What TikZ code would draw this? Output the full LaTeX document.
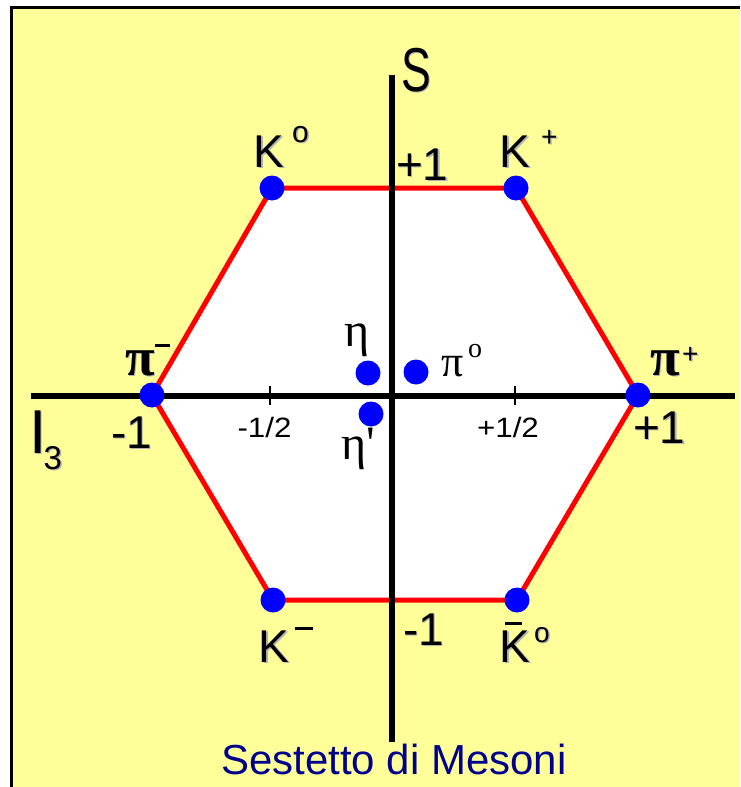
\documentclass[tikz,border=0pt]{standalone}
\usepackage{fontspec}
\setmainfont{Liberation Sans}
\newfontfamily\grk{Liberation Serif}
\usepackage{graphicx}
\definecolor{bgyellow}{RGB}{255,255,153}
\definecolor{titleblue}{RGB}{0,0,140}
\newcommand\shtxt[1]{\makebox[0pt][l]{\raisebox{-1.5pt}{\hspace{1.5pt}\textcolor{black!30}{#1}}}#1}
\newcommand\fsz[1]{\fontsize{#1}{#1}\selectfont}
\begin{document}
\begin{tikzpicture}[x=1pt,y=-1pt,
  lab/.style={inner sep=0pt, outer sep=0pt, anchor=base west},
  dot/.style={circle, fill=blue, draw=none, inner sep=0pt, minimum size=25pt},
  axisline/.style={line width=6pt},
  tickline/.style={line width=2.5pt},
  hexline/.style={draw=red, line width=5pt, fill=white, line join=round},
  bigl/.style={lab, font=\fsz{46pt}},
  supl/.style={lab, font=\fsz{28pt}},
  smalll/.style={lab, font=\fsz{28pt}},
  grkl/.style={lab, font=\grk\bfseries\fsz{54pt}}]
\useasboundingbox (0,0) rectangle (740,787);
\fill[white] (0,0) rectangle (740,787);
\fill[bgyellow] (11,7) rectangle (740,787);
\draw[line width=3pt] (11,787) -- (11,7) -- (740,7);

% vertices
\coordinate (vK0) at (272,188);
\coordinate (vKp) at (516,188);
\coordinate (vPip) at (638,395);
\coordinate (vK0b) at (517,600);
\coordinate (vKm) at (273,600);
\coordinate (vPim) at (152,395);

\filldraw[hexline] (vK0) -- (vKp) -- (vPip) -- (vK0b) -- (vKm) -- (vPim) -- cycle;

% axes
\coordinate (xl) at (31,395.5);
\coordinate (xr) at (735,395.5);
\coordinate (yt) at (391.5,75);
\coordinate (yb) at (391.5,742);
\draw[axisline] (xl) -- (xr);
\draw[axisline] (yt) -- (yb);

% ticks
\coordinate (t1a) at (270,386);
\coordinate (t1b) at (270,405);
\coordinate (t2a) at (515,386);
\coordinate (t2b) at (515,405);
\draw[tickline] (t1a) -- (t1b);
\draw[tickline] (t2a) -- (t2b);

% dots
\node[dot] (K0) at (vK0) {};
\node[dot] (Kp) at (vKp) {};
\node[dot] (Pip) at (vPip) {};
\node[dot] (K0b) at (vK0b) {};
\node[dot] (Km) at (vKm) {};
\node[dot] (Pim) at (vPim) {};
\node[dot] (eta) at (368,373) {};
\node[dot] (pi0) at (416,372) {};
\node[dot] (etap) at (371,414) {};

% axis labels
\node[lab, font=\fsz{62pt}] (Slab) at (401,91) {\shtxt{\scalebox{0.72}[1]{S}}};
\node[lab, font=\fsz{62pt}] (Ilab) at (29,453) {\shtxt{I}\hspace{-2.6pt}\raisebox{-16pt}{\fsz{33pt}\shtxt{3}}};

\node[bigl] (ptop) at (396,180) {\shtxt{+1}};
\node[bigl] (mbot) at (403,645) {\shtxt{-1}};
\node[bigl] (mleft) at (111,448) {\shtxt{-1}};
\node[bigl] (pright) at (633,443) {\shtxt{+1}};

\node[smalll] (mhalf) at (237.5,437) {\scalebox{1.12}[1]{-1/2}};
\node[smalll] (phalf) at (477,437) {\scalebox{1.12}[1]{+1/2}};

% particle labels
\node[bigl] (K0l) at (253.6,167) {\shtxt{K}};
\node[supl, font=\fsz{30pt}] (K0s) at (292,142) {\shtxt{o}};
\node[bigl] (Kpl) at (499.6,167) {\shtxt{K}};
\node[supl] (Kps) at (541,146) {\shtxt{+}};

\node[grkl] (Piml) at (125,375) {\shtxt{π}};
\node[lab] (Pims) at (155,347) {\rule{15pt}{3pt}};
\node[grkl] (Pipl) at (650,375) {\shtxt{π}};
\node[supl] (Pips) at (682,363) {\shtxt{+}};

\node[lab, font=\grk\fsz{48pt}] (etal) at (344,346) {η};
\node[lab, font=\grk\fsz{44pt}] (pi0l) at (441,376) {π};
\node[lab, font=\grk\fsz{28pt}] (pi0s) at (468,357) {o};
\node[lab, font=\grk\fsz{48pt}] (etapl) at (341,459) {η'};

\node[bigl] (Kml) at (258.6,662) {\shtxt{K}};
\node[lab] (Kms) at (295,630) {\rule{18pt}{3pt}};
\node[bigl] (K0bl) at (499.6,662) {\shtxt{K}};
\node[lab] (K0bbar) at (505,625) {\rule{17pt}{3pt}};
\node[supl] (K0bs) at (534,642) {\shtxt{o}};

% title
\node[lab, font=\fsz{42pt}, text=titleblue] (title) at (221,774) {Sestetto di Mesoni};
\end{tikzpicture}
\end{document}
